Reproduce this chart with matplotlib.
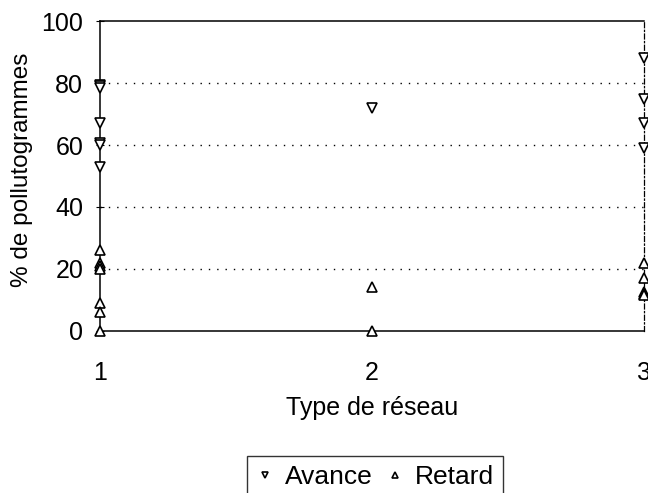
import matplotlib
matplotlib.use("Agg")
import matplotlib.pyplot as plt

plt.rcParams["font.family"] = ["Liberation Sans", "DejaVu Sans"]

# type de reseau / % de pollutogrammes
avance_x = [1, 1, 1, 1, 1, 1, 1, 2, 3, 3, 3, 3]
avance_y = [79.5, 79, 78.5, 67, 60.7, 60, 53, 72, 88, 75, 67, 59]
retard_x = [1, 1, 1, 1, 1, 1, 1, 2, 2, 3, 3, 3, 3, 3]
retard_y = [26, 22, 21, 20, 9, 6, 0, 14, 0, 22, 17, 12.5, 12, 11.5]

xticks = [1, 2, 3]
yticks = [0, 20, 40, 60, 80, 100]

fig = plt.figure(figsize=(6.48, 4.93), dpi=100)
ax = fig.add_axes([0.154, 0.329, 0.84, 0.628])

ax.plot(avance_x, avance_y, linestyle="none", marker="v", markersize=7,
        markerfacecolor="white", markeredgecolor="black", markeredgewidth=1.2,
        label="Avance", clip_on=False, zorder=3)
ax.plot(retard_x, retard_y, linestyle="none", marker="^", markersize=7,
        markerfacecolor="white", markeredgecolor="black", markeredgewidth=1.2,
        label="Retard", clip_on=False, zorder=3)

ax.set_xlim(1, 3)
ax.set_ylim(0, 100)
ax.set_xticks(xticks)
ax.set_yticks(yticks)
for y in yticks[1:-1]:
    ax.axhline(y, color="black", linestyle=(0, (1, 5)), linewidth=1, zorder=1)

for s in ["left", "bottom", "top"]:
    ax.spines[s].set_linewidth(1.1)
ax.spines["right"].set_linestyle((0, (4, 2, 1, 2)))
ax.spines["right"].set_linewidth(0.9)

ax.tick_params(axis="y", direction="inout", length=6, labelsize=18, pad=9)
ax.tick_params(axis="x", length=0, labelsize=18, pad=22)
ax.set_xlabel("Type de réseau", fontsize=18, labelpad=8)
ax.set_ylabel("% de pollutogrammes", fontsize=17.5, labelpad=6)
ax.yaxis.label.set_y(0.52)

fig.legend(loc="upper center", bbox_to_anchor=(0.579, 0.075), ncol=2,
           frameon=True, fancybox=False, edgecolor="black", fontsize=19,
           markerscale=0.7, handlelength=0.7, handletextpad=0.4,
           columnspacing=0.5, borderpad=0.35, borderaxespad=0)

fig.savefig("out.png", dpi=100)
